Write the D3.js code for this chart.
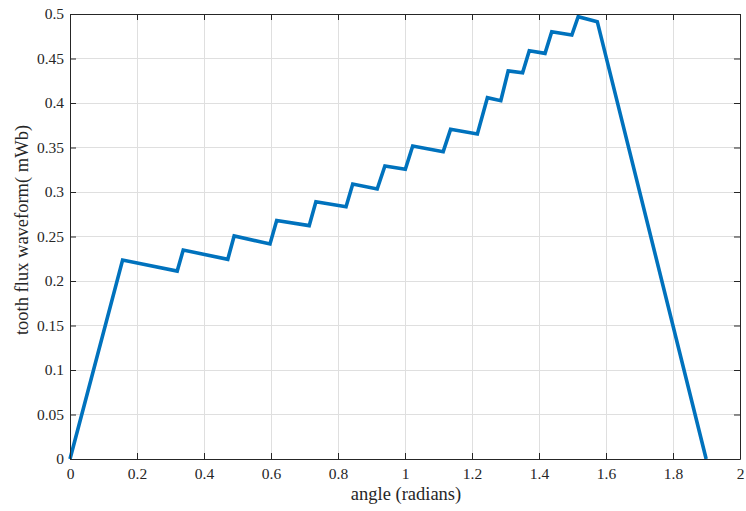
<!DOCTYPE html>
<html>
<head>
<meta charset="utf-8">
<script src="https://d3js.org/d3.v7.min.js"></script>
<style>
  html, body { margin: 0; padding: 0; background: #fff; }
  svg { display: block; }
  svg text { font-family: "Liberation Serif", "Times New Roman", Times, serif; fill: #262626; }
</style>
</head>
<body>
<svg id="chart" width="746" height="511"></svg>
<script>
// Tooth flux waveform vertices: angle (rad) and flux (mWb)
const angle = [0, 0.157, 0.320, 0.338, 0.471, 0.490, 0.597, 0.617, 0.714, 0.734,
               0.824, 0.844, 0.917, 0.940, 1.001, 1.023, 1.114, 1.136, 1.216, 1.246,
               1.286, 1.308, 1.351, 1.371, 1.418, 1.438, 1.498, 1.517, 1.574, 1.899];
const flux  = [0, 0.2236, 0.2112, 0.2348, 0.2244, 0.2506, 0.2416, 0.2680, 0.2622, 0.2891,
               0.2835, 0.3090, 0.3034, 0.3292, 0.3255, 0.3517, 0.3453, 0.3704, 0.3652, 0.4060,
               0.4026, 0.4360, 0.4340, 0.4588, 0.4558, 0.4801, 0.4764, 0.4970, 0.4914, 0];

const xTicks = [0, 0.2, 0.4, 0.6, 0.8, 1, 1.2, 1.4, 1.6, 1.8, 2];
const yTicks = [0, 0.05, 0.1, 0.15, 0.2, 0.25, 0.3, 0.35, 0.4, 0.45, 0.5];

const margin = { left: 70, right: 6, top: 14, bottom: 52 };
const W = 746, H = 511;
const svg = d3.select("#chart");

const x = d3.scaleLinear().domain([0, 2]).range([margin.left, W - margin.right]);
const y = d3.scaleLinear().domain([0, 0.5]).range([H - margin.bottom, margin.top]);

const fmt = d => String(d);
const axisColor = "#262626";
const gridColor = "#dfdfdf";

// grid
const grid = svg.append("g");
grid.selectAll(".gx").data(xTicks.slice(1, -1)).join("line")
  .attr("x1", d => x(d)).attr("x2", d => x(d))
  .attr("y1", y(0)).attr("y2", y(0.5))
  .attr("stroke", gridColor).attr("stroke-width", 1).attr("shape-rendering", "crispEdges");
grid.selectAll(".gy").data(yTicks.slice(1, -1)).join("line")
  .attr("y1", d => y(d)).attr("y2", d => y(d))
  .attr("x1", x(0)).attr("x2", x(2))
  .attr("stroke", gridColor).attr("stroke-width", 1).attr("shape-rendering", "crispEdges");

// waveform
const pts = angle.map((a, i) => [a, flux[i]]);
svg.append("path")
  .datum(pts)
  .attr("fill", "none")
  .attr("stroke", "#0072BD")
  .attr("stroke-width", 3.6)
  .attr("stroke-linejoin", "miter")
  .attr("d", d3.line().x(d => x(d[0])).y(d => y(d[1])));

// axes (box with ticks on all sides)
function styleAxis(g) {
  g.attr("font-family", null).attr("font-size", null);
  g.selectAll(".domain").attr("stroke", axisColor).attr("stroke-width", 1);
  g.selectAll(".tick line").attr("stroke", axisColor);
  g.selectAll(".tick text").attr("fill", axisColor).style("font-size", "15.5px");
}
const tickLen = 6;
svg.append("g").attr("transform", `translate(0,${y(0)})`)
  .call(d3.axisBottom(x).tickValues(xTicks).tickFormat(fmt).tickSizeInner(-tickLen).tickSizeOuter(0).tickPadding(9))
  .call(styleAxis);
svg.append("g").attr("transform", `translate(0,${y(0.5)})`)
  .call(d3.axisTop(x).tickValues(xTicks).tickFormat("").tickSizeInner(-tickLen).tickSizeOuter(0))
  .call(styleAxis);
svg.append("g").attr("transform", `translate(${x(0)},0)`)
  .call(d3.axisLeft(y).tickValues(yTicks).tickFormat(fmt).tickSizeInner(-tickLen).tickSizeOuter(0).tickPadding(6))
  .call(styleAxis);
svg.append("g").attr("transform", `translate(${x(2)},0)`)
  .call(d3.axisRight(y).tickValues(yTicks).tickFormat("").tickSizeInner(-tickLen).tickSizeOuter(0))
  .call(styleAxis);

// axis titles
svg.append("text")
  .attr("x", 406).attr("y", 500)
  .attr("text-anchor", "middle").style("font-size", "18.5px")
  .text("angle (radians)");
svg.append("text")
  .attr("transform", "translate(28,230) rotate(-90)")
  .attr("text-anchor", "middle").style("font-size", "18.5px")
  .text("tooth flux waveform( mWb)");
</script>
</body>
</html>
